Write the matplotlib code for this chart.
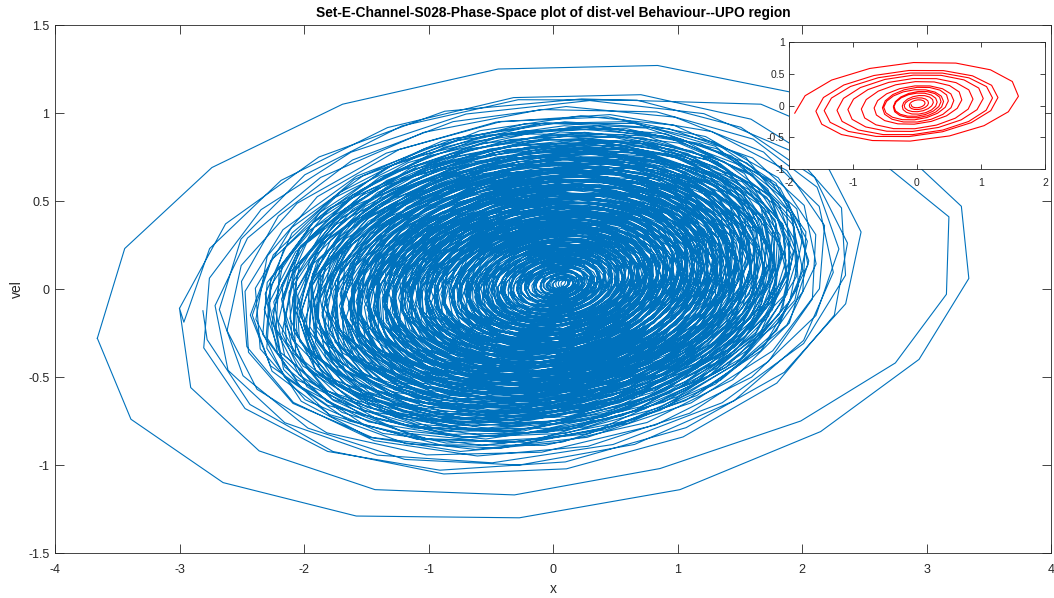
import numpy as np
import matplotlib
matplotlib.use('agg')
import matplotlib.pyplot as plt
from matplotlib.ticker import FuncFormatter

plt.rcParams['font.family'] = ['Liberation Sans', 'DejaVu Sans']
plt.rcParams['axes.unicode_minus'] = False

# two outermost loops, vertices
loop_a_x = [-3.66, -3.44, -2.74, -1.69, -0.44, 0.84, 1.90, 2.75, 3.28, 3.34, 2.94, 2.15, 1.02, -0.27, -1.58, -2.65, -3.39, -3.66]
loop_a_v = [-0.28, 0.23, 0.69, 1.05, 1.25, 1.27, 1.12, 0.82, 0.47, 0.06, -0.40, -0.81, -1.14, -1.30, -1.29, -1.10, -0.74, -0.28]
loop_b_x = [-3.00, -2.63, -1.88, -0.87, 0.23, 1.67, 2.50, 3.18, 3.16, 2.75, 1.99, 0.86, -0.31, -1.43, -2.36, -2.91, -3.00]
loop_b_v = [-0.11, 0.37, 0.75, 1.01, 1.08, 1.05, 0.80, 0.41, -0.03, -0.42, -0.75, -1.02, -1.17, -1.14, -0.92, -0.56, -0.11]

# dense part: x amplitude of each cycle, grouped in the in/out sweeps of the orbit
core_sweeps = [
    [2.75, 2.63, 2.53, 2.44, 2.33, 2.25, 2.17, 2.10, 2.02, 1.95, 1.89, 1.81, 1.76, 1.68,
     1.62, 1.55, 1.50, 1.42, 1.37, 1.30, 1.24, 1.17, 1.12, 1.04, 0.99, 0.92, 0.86, 0.79,
     0.74, 0.67, 0.61, 0.55, 0.49, 0.43, 0.37, 0.32, 0.26, 0.21, 0.15, 0.10, 0.06],
    [0.04, 0.08, 0.13, 0.19, 0.24, 0.31, 0.36, 0.43, 0.48, 0.55, 0.61, 0.67, 0.74, 0.79,
     0.86, 0.92, 0.97, 1.04, 1.10, 1.15, 1.22, 1.28, 1.33, 1.40, 1.46, 1.55],
    [1.50, 1.43, 1.37, 1.31, 1.24, 1.18, 1.11, 1.06, 0.99, 0.93, 0.86, 0.80, 0.74, 0.67,
     0.62, 0.55, 0.49, 0.42, 0.37, 0.30, 0.25, 0.19],
    [0.22, 0.29, 0.35, 0.40, 0.47, 0.52, 0.59, 0.65, 0.71, 0.78, 0.83, 0.90, 0.96, 1.02,
     1.09, 1.14, 1.21, 1.27, 1.33, 1.40, 1.45, 1.52, 1.58, 1.64, 1.70, 1.76, 1.83, 1.88,
     1.95, 2.01, 2.08, 2.19],
    [2.14, 2.08, 2.01, 1.95, 1.88, 1.83, 1.76, 1.70, 1.63, 1.58, 1.51, 1.45, 1.38, 1.33,
     1.26, 1.20, 1.14, 1.08, 1.01, 0.96, 0.89, 0.83, 0.77, 0.71, 0.64, 0.58, 0.51],
    [0.56, 0.62, 0.69, 0.74, 0.81, 0.87, 0.93, 1.00, 1.05, 1.12, 1.18, 1.24, 1.31, 1.36,
     1.43, 1.49, 1.55, 1.62, 1.67, 1.74, 1.80, 1.89],
    [1.84, 1.77, 1.71, 1.65, 1.58, 1.53, 1.46, 1.40, 1.33, 1.28, 1.21, 1.15, 1.09, 1.03,
     0.96, 0.91, 0.84, 0.78, 0.72, 0.66, 0.59, 0.54, 0.47, 0.41, 0.35, 0.28, 0.22, 0.16,
     0.11, 0.07],
    [0.09, 0.14, 0.20, 0.26, 0.31, 0.38, 0.44, 0.50, 0.57, 0.62, 0.69, 0.75, 0.81, 0.88,
     0.93, 1.00, 1.06, 1.12, 1.19, 1.24, 1.31, 1.37, 1.43, 1.50, 1.55, 1.62, 1.68, 1.74,
     1.81, 1.86, 1.93, 1.99, 2.06, 2.13, 2.27],
    [2.21, 2.14, 2.08, 2.01, 1.95, 1.88, 1.82, 1.75, 1.69, 1.62, 1.56, 1.49, 1.43, 1.36,
     1.30, 1.23, 1.17, 1.10, 1.04, 0.97, 0.91, 0.86],
    [0.80, 0.74, 0.69, 0.62, 0.57, 0.51, 0.45, 0.40, 0.34, 0.29, 0.23, 0.18, 0.13, 0.09,
     0.05],
    [0.07, 0.11, 0.16, 0.22, 0.27, 0.33, 0.39, 0.44, 0.50, 0.55, 0.61, 0.67, 0.72, 0.78,
     0.84],
    [0.91, 0.97, 1.04, 1.10, 1.16, 1.23, 1.29, 1.35, 1.42, 1.48, 1.54, 1.61, 1.67, 1.73,
     1.80, 1.86, 1.92, 1.98, 2.04, 2.11, 2.17, 2.24, 2.36, 2.50, 2.62],
]
# vel/x amplitude ratio, tilt and x shift of each sweep
sweep_ratio = [0.40, 0.44, 0.38, 0.42, 0.45, 0.39, 0.43, 0.41, 0.37, 0.46, 0.40, 0.42]
sweep_tilt = [-0.20, -0.12, -0.28, -0.16, -0.24, -0.10, -0.30, -0.18, -0.22, -0.08, -0.26, -0.14]
sweep_shift = [0.00, 0.05, -0.05, 0.03, -0.03, 0.06, -0.04, 0.02, -0.06, 0.04, -0.02, 0.01]

# inset orbit: x amplitude, vel/x ratio and x shift per cycle
inset_amp = [1.88, 1.45, 1.33, 1.20, 1.00, 0.85, 0.62, 0.56, 0.46, 0.40, 0.34, 0.27,
             0.20, 0.14, 0.09]
inset_ratio = [0.375, 0.38, 0.38, 0.40, 0.42, 0.45, 0.48, 0.50, 0.52, 0.52, 0.55, 0.55,
               0.55, 0.55, 0.55]
inset_shift = [0.04, -0.06, -0.05, 0.02, -0.01, 0.05, 0.02, 0.09, 0.01, 0.10, 0.05, 0.11,
               0.07, 0.09, 0.07]


def orbit(amps, ratios, tilts, shifts, steps, cx0, cx1, cy):
    # polygonal orbit with 'steps' samples per cycle, shape given per cycle
    k = np.arange(len(amps))
    t = np.append(np.arange(0, k[-1] * steps) / steps, k[-1])
    a = np.interp(t, k, amps)
    b = np.interp(t, k, np.asarray(amps) * np.asarray(ratios))
    ph = np.interp(t, k, tilts)
    sh = np.interp(t, k, shifts)
    psi = 2 * np.pi * t
    x = cx0 + sh + cx1 * a - a * np.cos(psi)
    v = cy + b * np.sin(psi + ph)
    return x, v


core_amp, core_ratio, core_tilt, core_shift = [], [], [], []
for sw, r, p, s in zip(core_sweeps, sweep_ratio, sweep_tilt, sweep_shift):
    core_amp += sw
    core_ratio += [r] * len(sw)
    core_tilt += [p] * len(sw)
    core_shift += [s] * len(sw)

fig = plt.figure(figsize=(10.54, 5.98), dpi=100)
ax = fig.add_axes([55 / 1054, 1 - 553 / 598, 996 / 1054, 528 / 598])

blue = '#0072BD'
ax.plot(loop_a_x, loop_a_v, color=blue, lw=0.8)
cx, cv = orbit(core_amp, core_ratio, core_tilt, core_shift, 16.4, 0.06, -0.10, 0.03)
ax.plot(np.concatenate([loop_b_x, cx]), np.concatenate([loop_b_v, cv]), color=blue, lw=0.8)

ax.set_xlim(-4, 4)
ax.set_ylim(-1.5, 1.5)
ax.set_xticks(np.arange(-4, 5, 1))
ax.set_yticks(np.arange(-1.5, 1.51, 0.5))
fmt = FuncFormatter(lambda v, p: '%g' % v)
ax.xaxis.set_major_formatter(fmt)
ax.yaxis.set_major_formatter(fmt)
ax.tick_params(direction='in', length=6.5, width=0.6, colors='#262626', labelsize=9,
               top=True, right=True)
ax.tick_params(axis='x', pad=8)
ax.tick_params(axis='y', pad=4)
for s in ax.spines.values():
    s.set_color('#262626')
    s.set_linewidth(0.6)
ax.set_title('Set-E-Channel-S028-Phase-Space plot of dist-vel Behaviour--UPO region',
             fontsize=9.9, fontweight='bold', color='black', pad=6)
ax.set_xlabel('x', fontsize=10, color='#262626', labelpad=4)
ax.set_ylabel('vel', fontsize=10, color='#262626', labelpad=3)

ins = fig.add_axes([789 / 1054, 1 - 169.3 / 598, 256 / 1054, 127.6 / 598])
ix, iv = orbit(inset_amp, inset_ratio, [-0.2] * len(inset_amp), inset_shift, 16.0,
               -0.07, 0.0, 0.02)
ins.plot(ix, iv, color='red', lw=0.8)
ins.set_xlim(-2, 2)
ins.set_ylim(-1, 1)
ins.set_xticks([-2, -1, 0, 1, 2])
ins.set_yticks([-1, -0.5, 0, 0.5, 1])
ins.xaxis.set_major_formatter(fmt)
ins.yaxis.set_major_formatter(fmt)
ins.tick_params(direction='in', length=3.5, width=0.6, colors='#262626', labelsize=7.5,
                top=True, right=True, pad=3)
ins.tick_params(axis='x', pad=6)
for s in ins.spines.values():
    s.set_color('#262626')
    s.set_linewidth(0.6)

fig.savefig('out.png', dpi=100)
